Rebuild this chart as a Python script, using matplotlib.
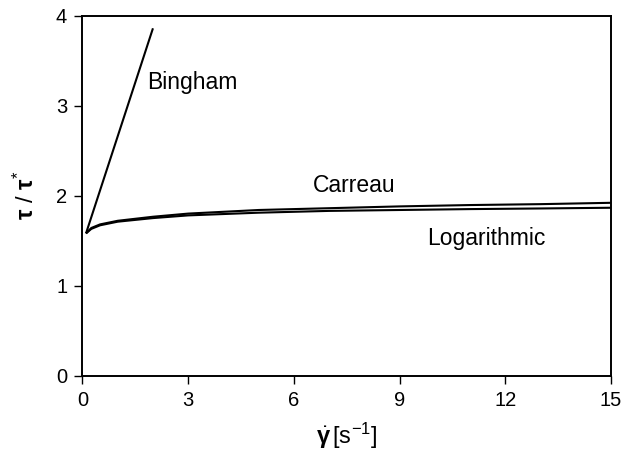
import matplotlib
matplotlib.use('Agg')
import matplotlib.pyplot as plt

plt.rcParams.update({
    'font.family': 'Liberation Sans',
    'mathtext.fontset': 'custom',
    'mathtext.rm': 'Liberation Sans',
    'mathtext.it': 'Liberation Sans:italic',
    'mathtext.bf': 'Liberation Sans:bold',
    'mathtext.default': 'regular',
})

# shear rate [1/s] and normalised stress for each model
bingham_x = [0.1, 2.0]
bingham_y = [1.58, 3.86]

carreau_x = [0.1, 0.25, 0.5, 1.0, 2.0, 3.0, 5.0, 7.0, 9.0, 11.0, 13.0, 15.0]
carreau_y = [1.58, 1.64, 1.68, 1.72, 1.765, 1.80, 1.84, 1.86, 1.88, 1.895, 1.905, 1.92]

log_x = [0.1, 0.25, 0.5, 1.0, 2.0, 3.0, 5.0, 7.0, 9.0, 11.0, 13.0, 15.0]
log_y = [1.58, 1.63, 1.67, 1.71, 1.75, 1.78, 1.81, 1.83, 1.84, 1.85, 1.857, 1.865]

xticks = [0, 3, 6, 9, 12, 15]
yticks = [0, 1, 2, 3, 4]

fig = plt.figure(figsize=(6.23, 4.66), dpi=100)
ax = fig.add_axes([0.1324, 0.1942, 0.8483, 0.7721])

for xs, ys in [(bingham_x, bingham_y), (carreau_x, carreau_y), (log_x, log_y)]:
    ax.plot(xs, ys, color='black', lw=1.5, solid_capstyle='butt')

ax.text(1.84, 3.18, 'Bingham', fontsize=16.5, va='baseline', ha='left')
ax.text(6.55, 2.04, 'Carreau', fontsize=16.5, va='baseline', ha='left')
ax.text(9.77, 1.45, 'Logarithmic', fontsize=16.5, va='baseline', ha='left')

ax.set_xlim(0, 15)
ax.set_ylim(0, 4)
ax.set_xticks(xticks)
ax.set_yticks(yticks)
ax.tick_params(direction='out', length=6, width=1.0, labelsize=14.5, pad=5,
               top=False, right=False)
for sp in ax.spines.values():
    sp.set_linewidth(1.4)

ax.set_xlabel(r'$\dot{\mathbf{\gamma}}\,[\mathrm{s}^{-1}]$', fontsize=17, labelpad=8)
ax.set_ylabel(r'$\mathbf{\tau}$ / $\mathbf{\tau}^{*}$', fontsize=17, labelpad=12)

fig.savefig('out.png', dpi=100)
